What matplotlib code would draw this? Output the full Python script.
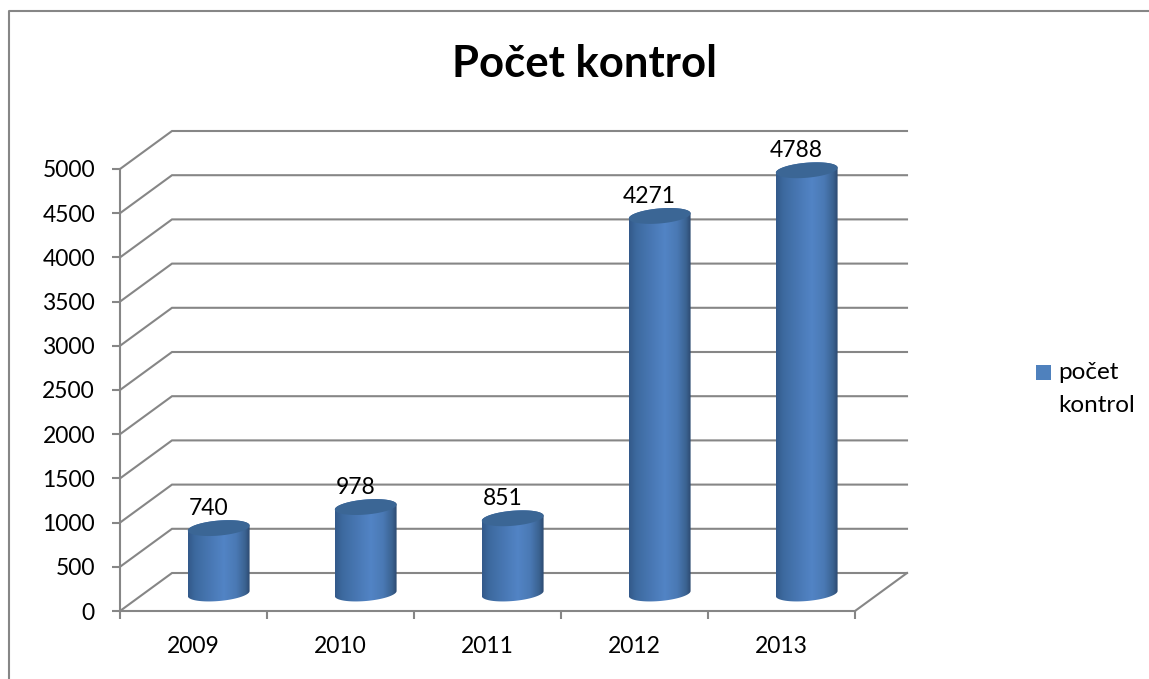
import numpy as np
import matplotlib
matplotlib.use("Agg")
import matplotlib.pyplot as plt
from matplotlib.colors import LinearSegmentedColormap
from matplotlib.lines import Line2D
from matplotlib.patches import PathPatch, Rectangle
from matplotlib.path import Path

years = ["2009", "2010", "2011", "2012", "2013"]
counts = [740, 978, 851, 4271, 4788]
y_ticks = list(range(0, 5001, 500))
series_name = "počet\nkontrol"
title = "Počet kontrol"

GRID = "#868686"
W, H = 1149, 679
plt.rcParams["font.family"] = ["Lato", "DejaVu Sans"]
fig = plt.figure(figsize=(W / 100, H / 100), dpi=100, facecolor="white")
L, R, T, B = 120, 855, 169, 611
ax = fig.add_axes([L / W, 1 - B / H, (R - L) / W, (B - T) / H])
ax.patch.set_alpha(0)
ax.set_xlim(0, 5)
ax.set_ylim(0, 5000)
PX = 5 / (R - L)            # data units per pixel, x
PY = 5000 / (B - T)         # data units per pixel, y
DX, DY = 52 * PX, 38 * PY   # depth of the 3-D box
lw = 1.5

# walls
for v in y_ticks:
    ax.plot([0, DX, 5 + DX], [v, v + DY, v + DY], color=GRID, lw=lw, clip_on=False,
            solid_joinstyle="miter", zorder=1)
ax.plot([5, 5 + DX], [0, DY], color=GRID, lw=lw, clip_on=False, zorder=1)

# axes
for s in ("top", "right"):
    ax.spines[s].set_visible(False)
for s in ("left", "bottom"):
    ax.spines[s].set_color(GRID)
    ax.spines[s].set_linewidth(lw)
ax.set_yticks(y_ticks)
ax.set_xticks(range(6))
ax.set_xticklabels([])
ax.set_xticks(np.arange(len(years)) + 0.5, years, minor=True)
ax.tick_params(axis="y", length=5.5, width=lw, color=GRID, labelsize=16.5,
               labelcolor="black", pad=12.5)
ax.tick_params(axis="x", which="major", length=5.5, width=lw, color=GRID)
ax.tick_params(axis="x", which="minor", length=0, labelsize=16.5, labelcolor="black", pad=18)

# cylinders
stops = [(0, "#33598a"), (0.12, "#3d6a9f"), (0.35, "#4877b3"), (0.58, "#5284c5"),
         (0.78, "#4a79b4"), (0.92, "#3b6392"), (1, "#2d4a70")]
cmap = LinearSegmentedColormap.from_list("cyl", stops)
grad = np.linspace(0, 1, 256)[None, :]
a, b, th = 31.0, 7.5, np.radians(5)
t_r = np.arctan2(-b * np.sin(th), a * np.cos(th))


def ell(cx, cy, t):
    px = a * np.cos(t) * np.cos(th) - b * np.sin(t) * np.sin(th)
    py = a * np.cos(t) * np.sin(th) + b * np.sin(t) * np.cos(th)
    return np.column_stack([cx + px * PX, cy + py * PY])


half = np.hypot(a * np.cos(th), b * np.sin(th))
for i, v in enumerate(counts):
    cx = i + 0.5 + 25.2 * PX
    cy0 = 17.5 * PY
    cy1 = cy0 + v
    low = ell(cx, cy0, np.linspace(t_r + np.pi, t_r + 2 * np.pi, 60))
    up = ell(cx, cy1, np.linspace(t_r, t_r + np.pi, 60))
    verts = np.vstack([low, up, low[:1]])
    side = PathPatch(Path(verts), transform=ax.transData, fc="none", ec="none")
    ax.add_patch(side)
    side.set_clip_on(False)
    im = ax.imshow(grad, cmap=cmap, aspect="auto", interpolation="bilinear",
                   extent=[cx - half * PX, cx + half * PX, cy0 - 12 * PY, cy1 + 12 * PY],
                   zorder=3)
    im.set_clip_box(fig.bbox)
    im.set_clip_path(side)
    top = ell(cx, cy1, np.linspace(0, 2 * np.pi, 120))
    ax.add_patch(PathPatch(Path(top), fc="#3b6695", ec="none", zorder=4, clip_on=False))
    ax.annotate(str(v), (cx, cy1), xytext=(-7.2, 14.0), textcoords="offset points",
                ha="center", va="center", fontsize=16.5, color="black", zorder=5,
                annotation_clip=False)
ax.set_xlim(0, 5)
ax.set_ylim(0, 5000)

# chart frame, title and legend
fig.add_artist(Line2D([8.5 / W, 8.5 / W, 1], [0, 1 - 10.5 / H, 1 - 10.5 / H], color=GRID, lw=lw))
fig.text(585 / W, 1 - 64 / H, title, ha="center", va="center", fontsize=31.4, fontweight="bold")
fig.add_artist(Rectangle((1036 / W, 1 - 380 / H), 15 / W, 15 / H, fc="#4f81bd", ec="none"))
fig.text(1058 / W, 1 - 389 / H, series_name, ha="left", va="center", fontsize=17.5,
         linespacing=1.75)

fig.savefig("out.png", dpi=100)
